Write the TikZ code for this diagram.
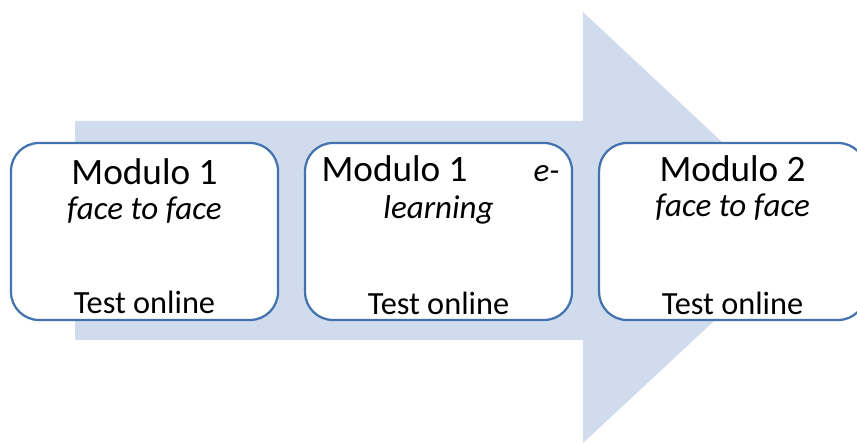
\documentclass[tikz,border=0pt]{standalone}
\usepackage{fontspec}
\setmainfont{Carlito}
\usepackage{xcolor}
\usepackage{tikz}
\usetikzlibrary{positioning, calc}
\definecolor{arrowcolor}{RGB}{208, 220, 238}
\definecolor{boxcolor}{RGB}{68, 114, 174}

\begin{document}
\begin{tikzpicture}[
    node distance=0.62cm,
    modbox/.style={rectangle, draw=boxcolor, fill=white, line width=1.6pt, rounded corners=0.7cm, minimum width=6.675cm, minimum height=4.425cm},
    titletext/.style={anchor=base, inner sep=0pt, font=\fontsize{26.5}{31}\selectfont},
    subtext/.style={anchor=base, inner sep=0pt, font=\fontsize{23.5}{28}\selectfont\itshape},
    testtext/.style={anchor=base, inner sep=0pt, font=\fontsize{23}{27}\selectfont},
]

% ============ FRAME ============
\fill[white] (0,0) rectangle (21.425,11.15);
\clip (0,0) rectangle (21.425,11.15);

% ============ BIG ARROW ============
\fill[arrowcolor] (1.875,8.125) -- (14.575,8.125) -- (14.575,10.85) -- (20.35,5.45)
    -- (14.575,0.075) -- (14.575,2.65) -- (1.875,2.65) -- cycle;

% ============ MODULES ============
\node[modbox] (box1) at (3.6125,5.3625) {};
\node[modbox, right=of box1] (box2) {};
\node[modbox, right=of box2] (box3) {};

% Module 1 face to face
\node[titletext] (title1) at ($(box1.north)+(0,-1.075)$) {Modulo 1};
\node[subtext] (sub1) at ($(box1.north)+(0,-1.95)$) {face to face};
\node[testtext] (test1) at ($(box1.south)+(0,0.2)$) {Test online};

% Module 1 e-learning
\node[titletext] (title2) at ($(box2.north)+(0.05,-1.0)$) {\makebox[5.95cm]{Modulo 1\hfill{\fontsize{23.5}{28}\selectfont\itshape e-}}};
\node[subtext] (sub2) at ($(box2.north)+(0,-1.925)$) {learning};
\node[testtext] (test2) at ($(box2.south)+(0,0.175)$) {Test online};

% Module 2 face to face
\node[titletext] (title3) at ($(box3.north)+(0,-1.0)$) {Modulo 2};
\node[subtext] (sub3) at ($(box3.north)+(0,-1.875)$) {face to face};
\node[testtext] (test3) at ($(box3.south)+(0,0.175)$) {Test online};

\end{tikzpicture}
\end{document}
